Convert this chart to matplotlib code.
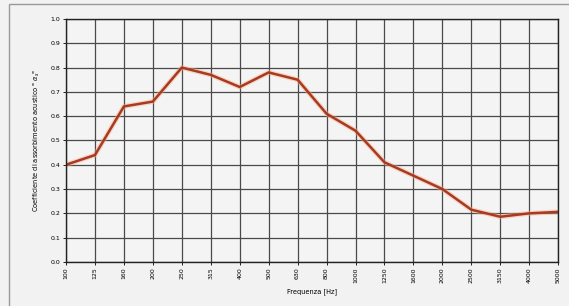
import matplotlib.pyplot as plt
from matplotlib.patches import Rectangle

# Dati
frequenze = ['100', '125', '160', '200', '250', '315', '400', '500', '630', '800',
             '1000', '1250', '1600', '2000', '2500', '3150', '4000', '5000']
alfa = [0.40, 0.44, 0.64, 0.66, 0.80, 0.77, 0.72, 0.78, 0.75, 0.61,
        0.54, 0.41, 0.355, 0.30, 0.215, 0.186, 0.20, 0.206]
y_ticks = [0.0, 0.1, 0.2, 0.3, 0.4, 0.5, 0.6, 0.7, 0.8, 0.9, 1.0]

fig = plt.figure(figsize=(5.69, 3.06), dpi=100, facecolor='#f2f2f2')
ax = fig.add_axes([0.116, 0.144, 0.865, 0.794])
ax.set_facecolor('#f4f4f4')

x = list(range(len(frequenze)))
ax.plot(x, alfa, color='#f7b08a', lw=3.6, alpha=0.45, solid_joinstyle='round')
ax.plot(x, alfa, color='#a93a22', lw=1.8, solid_joinstyle='round')

ax.set_xlim(0, len(frequenze) - 1)
ax.set_ylim(0, 1.0)
ax.set_xticks(x)
ax.set_xticklabels(frequenze, rotation=90, fontsize=4.5)
ax.set_yticks(y_ticks)
ax.set_yticklabels(['%.1f' % v for v in y_ticks], fontsize=4.5)
ax.tick_params(length=2, width=0.6, pad=2)
ax.grid(True, color='#4a4a4a', lw=0.9)
for s in ax.spines.values():
    s.set_color('#222222')
    s.set_linewidth(1.0)

ax.set_xlabel('Frequenza [Hz]', fontsize=4.8, labelpad=4)
ax.set_ylabel('Coefficiente di assorbimento acustico " $\\alpha_s$"', fontsize=4.8, labelpad=6)

# cornice esterna
fig.patches.append(Rectangle((9 / 569, -0.02), 1.0, 1.0 - 4 / 306 + 0.02,
                             transform=fig.transFigure, fill=False,
                             edgecolor='#9a9a9a', lw=1.0))

fig.savefig('out.png', dpi=100, facecolor=fig.get_facecolor())
